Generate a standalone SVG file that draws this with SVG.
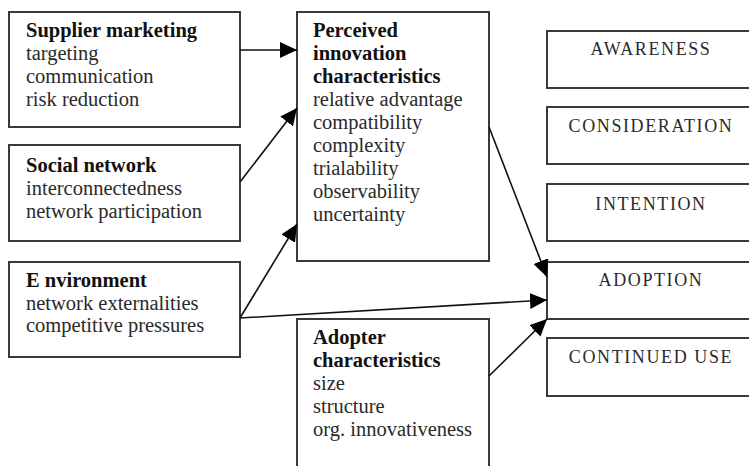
<svg xmlns="http://www.w3.org/2000/svg" width="749" height="466" viewBox="0 0 749 466">
<defs>
<style>
.box{fill:#fff;stroke:#3a3a3a;stroke-width:2}
.t{font-family:"Liberation Serif","Times New Roman",serif;font-size:20.5px;fill:#2a2a2a}
.b{font-weight:bold;fill:#111}
.c{font-family:"Liberation Serif","Times New Roman",serif;font-size:18px;fill:#2a2a2a;letter-spacing:1.6px;text-anchor:middle}
.ln{stroke:#111;stroke-width:1.6;fill:none;marker-end:url(#ah)}
</style>
<marker id="ah" viewBox="0 0 17 16" refX="17" refY="8" markerWidth="17" markerHeight="16" orient="auto" markerUnits="userSpaceOnUse">
<path d="M0,0 L17,8 L0,16 z" fill="#000"/>
</marker>
</defs>
<rect width="749" height="466" fill="#fff"/>
<g id="supplier">
<rect class="box" x="9" y="12" width="231" height="115"/>
<text class="t b" x="26" y="37">Supplier marketing</text>
<text class="t" x="26" y="60">targeting</text>
<text class="t" x="26" y="83">communication</text>
<text class="t" x="26" y="106">risk reduction</text>
</g>
<g id="social">
<rect class="box" x="9" y="145" width="231" height="96"/>
<text class="t b" x="26" y="172">Social network</text>
<text class="t" x="26" y="195">interconnectedness</text>
<text class="t" x="26" y="218">network participation</text>
</g>
<g id="environment">
<rect class="box" x="9" y="262" width="231" height="95"/>
<text class="t b" x="26" y="287">E nvironment</text>
<text class="t" x="26" y="310">network externalities</text>
<text class="t" x="26" y="332">competitive pressures</text>
</g>
<g id="perceived">
<rect class="box" x="297" y="12" width="192" height="249"/>
<text class="t b" x="313" y="37">Perceived</text>
<text class="t b" x="313" y="60">innovation</text>
<text class="t b" x="313" y="83">characteristics</text>
<text class="t" x="313" y="106">relative advantage</text>
<text class="t" x="313" y="129">compatibility</text>
<text class="t" x="313" y="152">complexity</text>
<text class="t" x="313" y="175">trialability</text>
<text class="t" x="313" y="198">observability</text>
<text class="t" x="313" y="221">uncertainty</text>
</g>
<g id="adopter">
<rect class="box" x="297" y="319" width="192" height="170"/>
<text class="t b" x="313" y="344">Adopter</text>
<text class="t b" x="313" y="367">characteristics</text>
<text class="t" x="313" y="390">size</text>
<text class="t" x="313" y="413">structure</text>
<text class="t" x="313" y="436">org. innovativeness</text>
</g>
<g id="awareness">
<rect class="box" x="547" y="31" width="230" height="57"/>
<text class="c" x="651" y="55">AWARENESS</text>
</g>
<g id="consideration">
<rect class="box" x="547" y="107" width="230" height="57"/>
<text class="c" x="651" y="132">CONSIDERATION</text>
</g>
<g id="intention">
<rect class="box" x="547" y="184" width="230" height="57"/>
<text class="c" x="651" y="210">INTENTION</text>
</g>
<g id="adoption">
<rect class="box" x="547" y="262" width="230" height="57"/>
<text class="c" x="651" y="286">ADOPTION</text>
</g>
<g id="continued">
<rect class="box" x="547" y="338" width="230" height="58"/>
<text class="c" x="651" y="363">CONTINUED USE</text>
</g>
<g id="connectors">
<line class="ln" x1="240" y1="50" x2="297" y2="50"/>
<line class="ln" x1="240" y1="182" x2="297" y2="108"/>
<line class="ln" x1="240" y1="318" x2="297" y2="224"/>
<line class="ln" x1="240" y1="318" x2="547" y2="300"/>
<line class="ln" x1="489" y1="127" x2="547" y2="277"/>
<line class="ln" x1="489" y1="376" x2="547" y2="319"/>
</g>
</svg>
